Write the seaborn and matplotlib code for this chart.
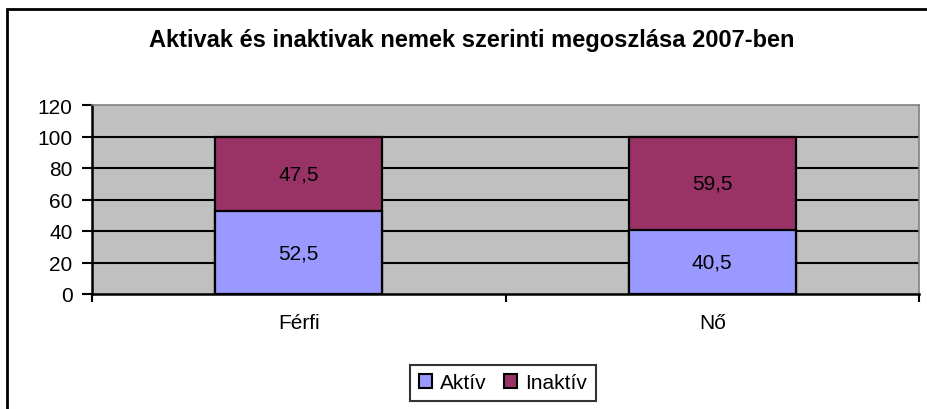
import matplotlib
matplotlib.use("Agg")
import matplotlib.pyplot as plt
from matplotlib.patches import Rectangle, Patch
import seaborn as sns
import pandas as pd

categories = ["Férfi", "Nő"]
aktiv = [52.5, 40.5]
inaktiv = [47.5, 59.5]
series_names = ["Aktív", "Inaktív"]
y_ticks = [0, 20, 40, 60, 80, 100, 120]
title = "Aktivak és inaktivak nemek szerinti megoszlása 2007-ben"

col_aktiv = "#9999FF"
col_inaktiv = "#993366"

sns.set_theme(style="white")
plt.rcParams["font.family"] = ["Liberation Sans", "DejaVu Sans"]
plt.rcParams["text.color"] = "black"
plt.rcParams["xtick.color"] = "black"
plt.rcParams["ytick.color"] = "black"
plt.rcParams["xtick.labelcolor"] = "black"
plt.rcParams["ytick.labelcolor"] = "black"

df = pd.DataFrame({"nem": categories, "aktiv": aktiv, "inaktiv": inaktiv})
df["osszes"] = df["aktiv"] + df["inaktiv"]

fs = 15

fig = plt.figure(figsize=(9.27, 4.10), dpi=100)
ax = fig.add_axes([92 / 927, 1 - 295 / 410, (919 - 92) / 927, (295 - 106) / 410])
ax.set_facecolor("#C0C0C0")

bw = 0.405
sns.barplot(data=df, x="nem", y="osszes", color=col_inaktiv, width=bw,
            edgecolor="black", linewidth=1.6, saturation=1, ax=ax, zorder=3)
sns.barplot(data=df, x="nem", y="aktiv", color=col_aktiv, width=bw,
            edgecolor="black", linewidth=1.6, saturation=1, ax=ax, zorder=4)

for i, (a, b) in enumerate(zip(aktiv, inaktiv)):
    ax.text(i, a / 2, f"{a:.1f}".replace(".", ","), ha="center", va="center",
            fontsize=fs, color="black", zorder=5)
    ax.text(i, a + b / 2, f"{b:.1f}".replace(".", ","), ha="center", va="center",
            fontsize=fs, color="black", zorder=5)

ax.set_xlim(-0.5, 1.5)
ax.set_ylim(0, 120)
ax.set_yticks(y_ticks)
ax.set_yticklabels([str(t) for t in y_ticks], fontsize=fs)
for t in y_ticks[1:-1]:
    ax.axhline(t, color="black", linewidth=1.5, zorder=1)

ax.set_xticks([-0.5, 0.5, 1.5], minor=False)
ax.set_xticklabels([])
ax.set_xticks([0, 1], minor=True)
ax.set_xticklabels(categories, minor=True, fontsize=fs)
ax.tick_params(axis="x", which="major", direction="out", length=6, width=1.5,
               color="black", bottom=True)
ax.tick_params(axis="x", which="minor", length=0, pad=14, labelcolor="black")
ax.tick_params(axis="y", direction="out", length=7, width=1.5, color="black",
               left=True, pad=7, labelcolor="black")
ax.set_xlabel("")
ax.set_ylabel("")

for side in ["left", "bottom"]:
    ax.spines[side].set_color("black")
    ax.spines[side].set_linewidth(1.8)
for side in ["top", "right"]:
    ax.spines[side].set_color("#808080")
    ax.spines[side].set_linewidth(1.2)

fig.text(472 / 927, 1 - 40 / 410, title, ha="center", va="center",
         fontsize=17, fontweight="bold", color="black")

handles = [Patch(facecolor=col_aktiv, edgecolor="black", linewidth=1.5),
           Patch(facecolor=col_inaktiv, edgecolor="black", linewidth=1.5)]
leg = fig.legend(handles, series_names, loc="center", bbox_to_anchor=(503 / 927, 1 - 384 / 410),
                 ncol=2, fontsize=fs, frameon=True, fancybox=False,
                 handlelength=0.65, handleheight=0.65, handletextpad=0.4,
                 columnspacing=0.8, borderpad=0.4, borderaxespad=0)
leg.get_frame().set_edgecolor("black")
leg.get_frame().set_linewidth(1.5)
for txt in leg.get_texts():
    txt.set_color("black")

fig.patches.append(Rectangle((7 / 927, -0.1), 1.2, 1 - 10 / 410 + 0.1,
                             transform=fig.transFigure, fill=False,
                             edgecolor="black", linewidth=2))

fig.savefig("out.png", dpi=100)
